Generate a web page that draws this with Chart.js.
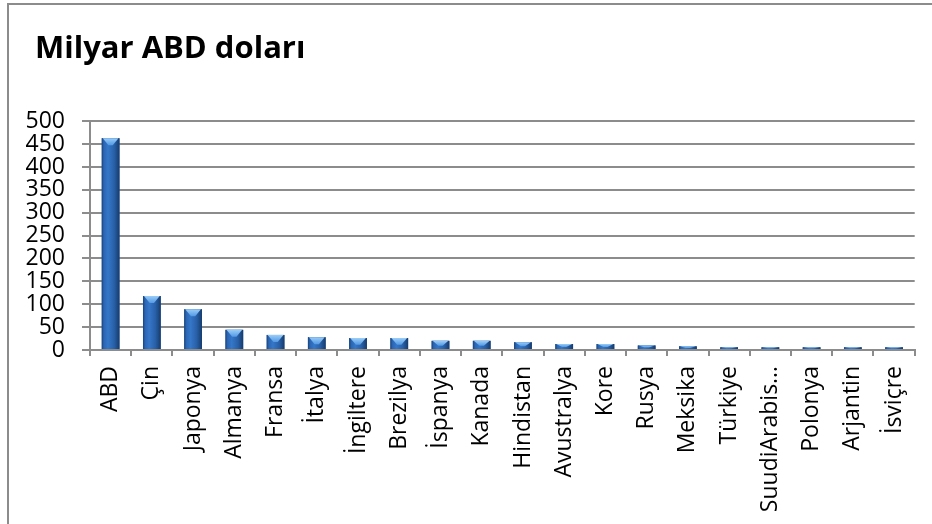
<!DOCTYPE html>
<html>
<head>
<meta charset="utf-8">
<script src="https://cdn.jsdelivr.net/npm/chart.js@4.4.0/dist/chart.umd.min.js"></script>
<style>
  html, body { margin: 0; padding: 0; background: #ffffff; }
  #wrap { position: relative; width: 932px; height: 524px; overflow: hidden; }
  #frame { position: absolute; left: 7px; top: 3px; right: -10px; bottom: -10px;
           border-left: 2px solid #8c8c8c; border-top: 2px solid #8c8c8c; }
  canvas { position: absolute; left: 0; top: 0; }
</style>
</head>
<body>
<div id="wrap">
  <div id="frame"></div>
  <canvas id="chart" width="932" height="524"></canvas>
</div>
<script>
// Chart title
const titleText = 'Milyar ABD doları';

// Countries along the x axis
const countries = [
  'ABD', 'Çin', 'Japonya', 'Almanya', 'Fransa', 'İtalya', 'İngiltere',
  'Brezilya', 'İspanya', 'Kanada', 'Hindistan', 'Avustralya', 'Kore',
  'Rusya', 'Meksika', 'Türkiye', 'SuudiArabistan', 'Polonya', 'Arjantin', 'İsviçre'
];

// Values in billions of US dollars
const values = [
  463, 118, 89, 44, 33, 28, 26,
  26, 20, 20, 17, 13, 13,
  10, 8, 6, 6, 6, 6, 6
];

// Value axis range and step
const yMin = 0;
const yMax = 500;
const yStep = 50;

const FONT = "'Open Sans', 'Noto Sans', sans-serif";
const GRID = '#8c8c8c';
const TITLE_LEFT = 35;

// Indents the title block from the left edge of the canvas
const titleIndent = {
  id: 'titleIndent',
  afterLayout(chart) {
    if (chart.titleBlock) chart.titleBlock.left = TITLE_LEFT;
  }
};

// Shades each bar with a horizontal gradient and a light bevelled top
const barShade = {
  id: 'barShade',
  afterDatasetsDraw(chart) {
    const ctx = chart.ctx;
    chart.getDatasetMeta(0).data.forEach(bar => {
      const p = bar.getProps(['x', 'y', 'base', 'width'], true);
      const L = p.x - p.width / 2, R = p.x + p.width / 2;
      const top = Math.min(p.y, p.base);
      const h = Math.abs(p.base - p.y);
      ctx.save();
      const g = ctx.createLinearGradient(L, 0, R, 0);
      g.addColorStop(0, '#1a4379');
      g.addColorStop(0.12, '#2b66b4');
      g.addColorStop(0.35, '#3577c8');
      g.addColorStop(0.7, '#2860a8');
      g.addColorStop(1, '#163b6c');
      ctx.fillStyle = g;
      ctx.fillRect(L, top, p.width, h);
      const ch = Math.min(7, h * 0.6);
      const cg = ctx.createLinearGradient(0, top, 0, top + ch);
      cg.addColorStop(0, '#9acdf8');
      cg.addColorStop(1, '#5299e4');
      ctx.fillStyle = cg;
      ctx.beginPath();
      ctx.moveTo(L + 1, top);
      ctx.lineTo(R - 1, top);
      ctx.lineTo(p.x + p.width * 0.12, top + ch);
      ctx.lineTo(p.x - p.width * 0.12, top + ch);
      ctx.closePath();
      ctx.fill();
      ctx.restore();
    });
  }
};

new Chart(document.getElementById('chart'), {
  type: 'bar',
  data: {
    labels: countries,
    datasets: [{
      data: values,
      backgroundColor: '#2860a8',
      borderWidth: 0,
      categoryPercentage: 1,
      barPercentage: 0.43
    }]
  },
  options: {
    responsive: false,
    animation: false,
    devicePixelRatio: 1,
    layout: { padding: { left: 8, right: 13, top: 0, bottom: 0 } },
    plugins: {
      legend: { display: false },
      tooltip: { enabled: false },
      title: {
        display: true,
        text: titleText,
        align: 'start',
        color: '#000000',
        font: { family: FONT, size: 31, weight: 'bold', lineHeight: 1.2 },
        padding: { top: 31, bottom: 53 }
      }
    },
    scales: {
      x: {
        grid: { display: true, drawOnChartArea: false, drawTicks: true, tickLength: 6, color: GRID, lineWidth: 2 },
        border: { display: true, color: GRID, width: 2 },
        ticks: {
          autoSkip: false,
          minRotation: 90,
          maxRotation: 90,
          padding: 10,
          color: '#000000',
          font: { family: FONT, size: 23 },
          callback: function (v) {
            const s = this.getLabelForValue(v);
            return s.length > 11 ? s.slice(0, 11) + '…' : s;
          }
        },
        afterFit(scale) { scale.height = 174; }
      },
      y: {
        min: yMin,
        max: yMax,
        grid: { color: GRID, lineWidth: 2, tickLength: 8 },
        border: { display: true, color: GRID, width: 2 },
        ticks: {
          stepSize: yStep,
          autoSkip: false,
          padding: 17,
          color: '#000000',
          font: { family: FONT, size: 23, lineHeight: 1 }
        },
        afterFit(scale) { scale.width = 82; }
      }
    }
  },
  plugins: [titleIndent, barShade]
});
</script>
</body>
</html>
